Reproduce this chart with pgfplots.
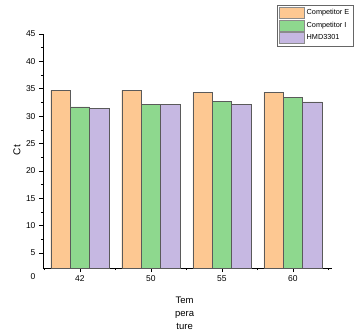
\documentclass[border=0pt]{standalone}
\usepackage{pgfplots}
\pgfplotsset{compat=1.18}
\usepackage{fontspec}
\setmainfont{Liberation Sans}
\usetikzlibrary{calc}
\definecolor{corange}{RGB}{253,200,146}
\definecolor{cgreen}{RGB}{142,216,142}
\definecolor{cpurple}{RGB}{198,184,226}
\definecolor{edge}{RGB}{90,90,90}
\begin{document}
\begin{tikzpicture}
\begin{axis}[
  name=ax,
  scale only axis,
  width=289pt, height=234pt,
  ybar=0pt, bar width=0.274,
  xmin=-0.52, xmax=3.55,
  ymin=2.25, ymax=45,
  axis lines=left,
  axis line style={-, black, line width=0.6pt},
  xtick={0,1,2,3},
  xticklabels={42,50,55,60},
  minor xtick={-0.5,0.5,1.5,2.5,3.5},
  ytick={5,10,...,45},
  minor ytick={7.5,12.5,...,42.5},
  tick align=outside,
  major tick length=4pt,
  minor tick length=2pt,
  tick style={black, line width=0.5pt},
  tick label style={font=\fontsize{8.5}{9}\selectfont},
  /pgf/number format/assume math mode=true,
  ylabel={Ct},
  ylabel style={font=\fontsize{10}{11}\selectfont, at={(rel axis cs:0,0.504)}, anchor=center, yshift=26pt},
  xlabel={Tem\\pera\\ture},
  xlabel style={font=\fontsize{9.5}{13}\selectfont, align=center, at={(rel axis cs:0.49,0)}, anchor=north, yshift=-25pt},
  legend style={at={(rel axis cs:0.81,1.124)}, anchor=north west, draw=black!60, line width=0.4pt,
    font=\fontsize{7.3}{7.8}\selectfont, row sep=1.2pt, inner sep=2pt, cells={anchor=west}},
  legend image code/.code={\draw[#1, draw=edge!70] (0pt,-5.5pt) rectangle (25pt,5.5pt);},
  legend cell align=left,
]
\addplot[fill=corange, draw=edge, line width=0.4pt] coordinates {(0,34.7) (1,34.7) (2,34.4) (3,34.4)};
\addplot[fill=cgreen, draw=edge, line width=0.4pt] coordinates {(0,31.7) (1,32.2) (2,32.7) (3,33.4)};
\addplot[fill=cpurple, draw=edge, line width=0.4pt] coordinates {(0,31.4) (1,32.2) (2,32.2) (3,32.6)};
\legend{Competitor E,Competitor I,HMD3301}
\end{axis}
\node[font=\fontsize{8.5}{9}\selectfont] at ($(ax.south west)+(-10pt,-9pt)$) {0};
\pgfresetboundingbox
\path[use as bounding box] ($(ax.south west)+(-43pt,-65pt)$) rectangle ($(ax.south west)+(321pt,268pt)$);
\end{tikzpicture}
\end{document}
